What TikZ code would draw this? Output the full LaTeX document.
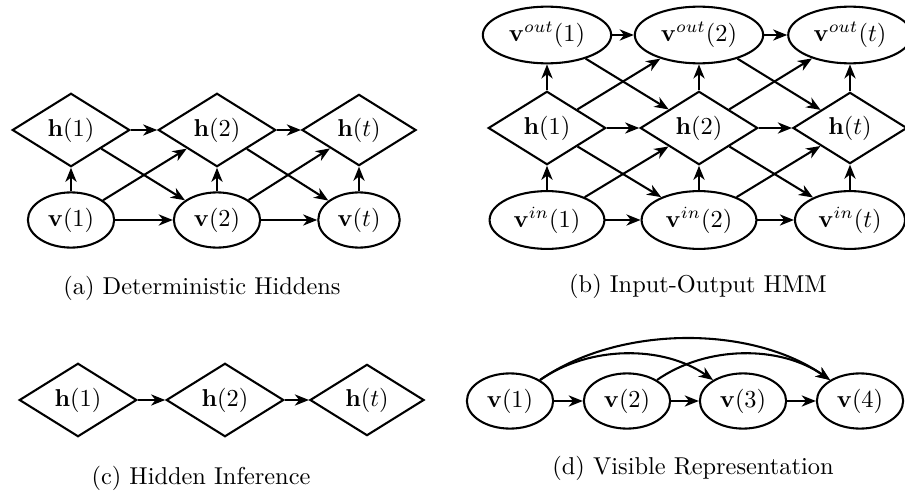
\documentclass[tikz,border=0pt]{standalone}
\usetikzlibrary{shapes.geometric,arrows.meta}
\begin{document}
\begin{tikzpicture}[x=0.41pt,y=-0.41pt,
  ell/.style={draw,ellipse,line width=0.85pt,inner sep=3pt},
  dia/.style={draw,diamond,line width=0.85pt,aspect=1.6,inner sep=2.5pt},
  arr/.style={line width=0.85pt,-{Stealth[length=5.8pt,width=4.6pt,inset=1.8pt]}},
  captext/.style={inner sep=0pt}]
\useasboundingbox (0,0) rectangle (905,491);
% (a)
\node[dia] (ah1) at (71,130) {$\mathbf{h}(1)$};
\node[dia] (ah2) at (217,130) {$\mathbf{h}(2)$};
\node[dia] (aht) at (359,130) {$\mathbf{h}(t)$};
\node[ell] (av1) at (71,220) {$\mathbf{v}(1)$};
\node[ell] (av2) at (217,220) {$\mathbf{v}(2)$};
\node[ell] (avt) at (359,220) {$\mathbf{v}(t)$};
\draw[arr] (ah1) -- (ah2);
\draw[arr] (ah2) -- (aht);
\draw[arr] (av1) -- (av2);
\draw[arr] (av2) -- (avt);
\draw[arr] (av1) -- (ah1);
\draw[arr] (av2) -- (ah2);
\draw[arr] (avt) -- (aht);
\draw[arr] (ah1) -- (av2);
\draw[arr] (av1) -- (ah2);
\draw[arr] (ah2) -- (avt);
\draw[arr] (av2) -- (aht);
\node[captext] (capa) at (202,288) {(a) Deterministic Hiddens};
% (b)
\node[ell] (bo1) at (547,35) {$\mathbf{v}^{out}(1)$};
\node[ell] (bo2) at (699,35) {$\mathbf{v}^{out}(2)$};
\node[ell] (bot) at (850,35) {$\mathbf{v}^{out}(t)$};
\node[dia] (bh1) at (547,128) {$\mathbf{h}(1)$};
\node[dia] (bh2) at (699,128) {$\mathbf{h}(2)$};
\node[dia] (bht) at (850,128) {$\mathbf{h}(t)$};
\node[ell] (bi1) at (547,220) {$\mathbf{v}^{in}(1)$};
\node[ell] (bi2) at (699,220) {$\mathbf{v}^{in}(2)$};
\node[ell] (bit) at (850,220) {$\mathbf{v}^{in}(t)$};
\draw[arr] (bo1) -- (bo2);
\draw[arr] (bo2) -- (bot);
\draw[arr] (bh1) -- (bh2);
\draw[arr] (bh2) -- (bht);
\draw[arr] (bi1) -- (bi2);
\draw[arr] (bi2) -- (bit);
\draw[arr] (bh1) -- (bo1);
\draw[arr] (bh2) -- (bo2);
\draw[arr] (bht) -- (bot);
\draw[arr] (bi1) -- (bh1);
\draw[arr] (bi2) -- (bh2);
\draw[arr] (bit) -- (bht);
\draw[arr] (bo1) -- (bh2);
\draw[arr] (bh1) -- (bo2);
\draw[arr] (bh1) -- (bi2);
\draw[arr] (bi1) -- (bh2);
\draw[arr] (bo2) -- (bht);
\draw[arr] (bh2) -- (bot);
\draw[arr] (bh2) -- (bit);
\draw[arr] (bi2) -- (bht);
\node[captext] (capb) at (698,286) {(b) Input-Output HMM};
% (c)
\node[dia] (ch1) at (78,400) {$\mathbf{h}(1)$};
\node[dia] (ch2) at (225,400) {$\mathbf{h}(2)$};
\node[dia] (cht) at (367,400) {$\mathbf{h}(t)$};
\draw[arr] (ch1) -- (ch2);
\draw[arr] (ch2) -- (cht);
\node[captext] (capc) at (201,478) {(c) Hidden Inference};
% (d)
\node[ell] (dv1) at (510,401) {$\mathbf{v}(1)$};
\node[ell] (dv2) at (627,401) {$\mathbf{v}(2)$};
\node[ell] (dv3) at (743,401) {$\mathbf{v}(3)$};
\node[ell] (dv4) at (860,401) {$\mathbf{v}(4)$};
\draw[arr] (dv1) -- (dv2);
\draw[arr] (dv2) -- (dv3);
\draw[arr] (dv3) -- (dv4);
\draw[arr] (dv1) to[out=35,in=145,looseness=0.9] (dv3);
\draw[arr] (dv1) to[out=35,in=145,looseness=0.85] (dv4);
\draw[arr] (dv2) to[out=35,in=145,looseness=0.9] (dv4);
\node[captext] (capd) at (693,468) {(d) Visible Representation};
\end{tikzpicture}
\end{document}
